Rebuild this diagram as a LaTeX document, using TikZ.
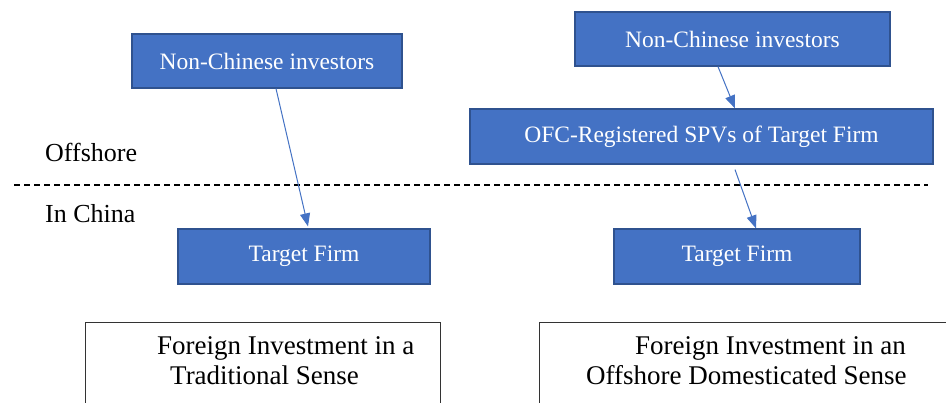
\documentclass[tikz,border=0pt]{standalone}
\usepackage{fontspec}
\setmainfont{Liberation Serif}
\usetikzlibrary{arrows.meta,calc}
\definecolor{boxblue}{HTML}{4472C4}
\definecolor{boxedge}{HTML}{2F528F}
\tikzset{
  bluebox/.style={draw=boxedge, line width=1.2pt, fill=boxblue, text=white, inner sep=0pt,
    font=\fontsize{23.5}{28}\selectfont},
  link/.style={draw=boxblue, line width=1pt, -{Triangle[length=13pt,width=10pt]}},
  sidelabel/.style={anchor=base west, inner sep=0pt, font=\fontsize{26}{30}\selectfont},
  captext/.style={anchor=base west, inner sep=0pt, font=\fontsize{27}{32}\selectfont},
  capbox/.style={draw=black!80, line width=0.9pt, fill=white},
  divider/.style={draw=black, line width=1.2pt, dash pattern=on 6pt off 4pt}
}
\begin{document}
\begin{tikzpicture}[x=1pt,y=-1pt]
\useasboundingbox (0,0) rectangle (946,403);
\clip (0,0) rectangle (946,403);
\fill[white] (0,0) rectangle (946,403);
% left column
\node[bluebox, minimum width=270pt, minimum height=54pt] (lnc) at (267,61) {Non-Chinese investors};
\node[bluebox, minimum width=252pt, minimum height=55pt] (ltf) at (304,256.5) {Target Firm};
% right column
\node[bluebox, minimum width=315pt, minimum height=54pt] (rnc) at (732.5,39) {Non-Chinese investors};
\node[bluebox, minimum width=463pt, minimum height=55pt] (ofc) at (701.5,136.5) {OFC-Registered SPVs of Target Firm};
\node[bluebox, minimum width=246pt, minimum height=55pt] (rtf) at (737,256.5) {Target Firm};
% divider
\coordinate (dl) at (14,185);
\coordinate (dr) at (928,185);
\draw[divider] (dl) -- (dr);
\node[sidelabel] (off) at (45,162) {Offshore};
\node[sidelabel] (inc) at (45,223) {In China};
% arrows
\draw[link] ([xshift=9pt]lnc.south) -- ([xshift=4pt,yshift=2pt]ltf.north);
\draw[link] ([xshift=-14.5pt]rnc.south) -- ([xshift=33.5pt]ofc.north);
\draw[link] ([xshift=33.5pt,yshift=-5pt]ofc.south) -- ([xshift=19pt]rtf.north);
% caption boxes
\draw[capbox] (85,322) rectangle (440,420);
\draw[capbox] (539,322) rectangle (960,420);
\node[captext] (lc1) at (157,355) {Foreign Investment in a};
\node[captext] (lc2) at (170,385) {Traditional Sense};
\node[captext] (rc1) at (635,355) {Foreign Investment in an};
\node[captext] (rc2) at (586,385) {Offshore Domesticated Sense};
\end{tikzpicture}
\end{document}
